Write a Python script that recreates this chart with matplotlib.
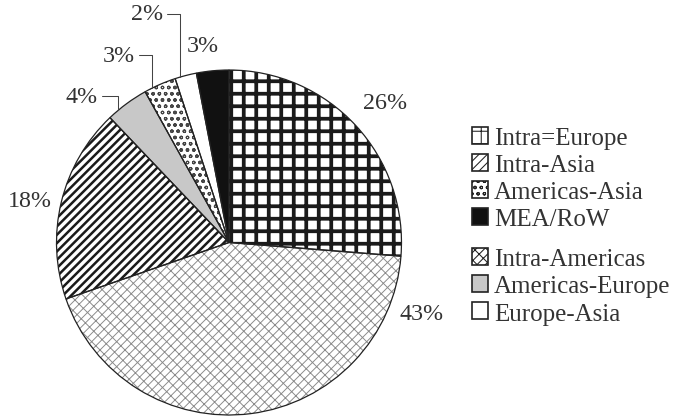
import matplotlib
matplotlib.use('Agg')
import matplotlib.pyplot as plt
import matplotlib.patches as mpatches
import numpy as np

# trade lanes, clockwise from 12 o'clock
regions = ['Intra=Europe', 'Intra-Americas', 'Intra-Asia', 'Americas-Europe',
           'Americas-Asia', 'Europe-Asia', 'MEA/RoW']
shares = [26, 43, 18, 4, 3, 2, 3]

# legend order (two groups)
legend_top = ['Intra=Europe', 'Intra-Asia', 'Americas-Asia', 'MEA/RoW']
legend_bottom = ['Intra-Americas', 'Americas-Europe', 'Europe-Asia']

# styling per wedge
face_colors = ['white', 'white', 'white', '#c8c8c8', 'white', 'white', '#111111']
hatches = ['+', '///' + '\\\\', '///', '', 'oo', '', '']
hatch_colors = ['#1a1a1a', '#8a8a8a', '#1a1a1a', '#1a1a1a', '#444444', '#1a1a1a', '#1a1a1a']
hatch_lws = [3.6, 0.9, 2.4, 1.0, 1.1, 1.0, 1.0]

# label placement (pie radius = 1) and which ones get a leader line
label_pos = [(0.904, 0.814), (1.119, -0.414), (-1.154, 0.241), (-0.852, 0.849),
             (-0.638, 1.087), (-0.475, 1.325), (-0.151, 1.145)]
has_leader = [False, False, False, True, True, True, False]

plt.rcParams['font.family'] = ['Liberation Serif', 'DejaVu Serif']

fig = plt.figure(figsize=(9, 5.56), dpi=75)
ax = fig.add_axes([0.0837, 0.0024, 0.5111, 0.8273])

# fills + hatches
wedges, _ = ax.pie(shares, startangle=90, counterclock=False, colors=face_colors,
                   wedgeprops=dict(linewidth=0))
for w, h, hc, hl in zip(wedges, hatches, hatch_colors, hatch_lws):
    w.set_edgecolor(hc)
    w.set_linewidth(0)
    w.set_hatch(h)
    try:
        w.set_hatch_linewidth(hl)
    except AttributeError:
        pass

# outlines on top
ax.pie(shares, startangle=90, counterclock=False,
       wedgeprops=dict(fill=False, edgecolor='#222222', linewidth=1.2))

ax.set_xlim(-1, 1)
ax.set_ylim(-1, 1)
ax.set_aspect('equal')
ax.set_axis_off()

txt_color = '#333333'
for w, val, pos, lead in zip(wedges, shares, label_pos, has_leader):
    label = f'{val}%'
    if lead:
        theta = np.deg2rad(w.theta1 + 0.75 * (w.theta2 - w.theta1))
        ax.annotate(label, xy=(np.cos(theta), np.sin(theta)), xytext=pos,
                    ha='center', va='center', fontsize=23, color=txt_color,
                    annotation_clip=False,
                    arrowprops=dict(arrowstyle='-', color='#444444', lw=1.0,
                                    connectionstyle='angle,angleA=0,angleB=90,rad=0',
                                    relpos=(1, 0.5), shrinkA=2, shrinkB=0))
    else:
        ax.text(pos[0], pos[1], label, ha='center', va='center', fontsize=23,
                color=txt_color, clip_on=False)


def proxy(name):
    i = regions.index(name)
    p = mpatches.Patch(facecolor=face_colors[i], edgecolor='#222222',
                       hatch=hatches[i], linewidth=1.6)
    try:
        p.set_hatch_linewidth(hatch_lws[i])
    except AttributeError:
        pass
    return p


leg_kw = dict(loc='upper left', frameon=False, fontsize=24, borderpad=0,
              borderaxespad=0, handlelength=0.64, handleheight=0.64,
              handletextpad=0.25, labelspacing=0.2, labelcolor=txt_color)
fig.legend([proxy(n) for n in legend_top], legend_top,
           bbox_to_anchor=(0.699, 0.693), **leg_kw)
fig.legend([proxy(n) for n in legend_bottom], legend_bottom,
           bbox_to_anchor=(0.699, 0.402), **leg_kw)

fig.savefig('out.png', dpi=75)
